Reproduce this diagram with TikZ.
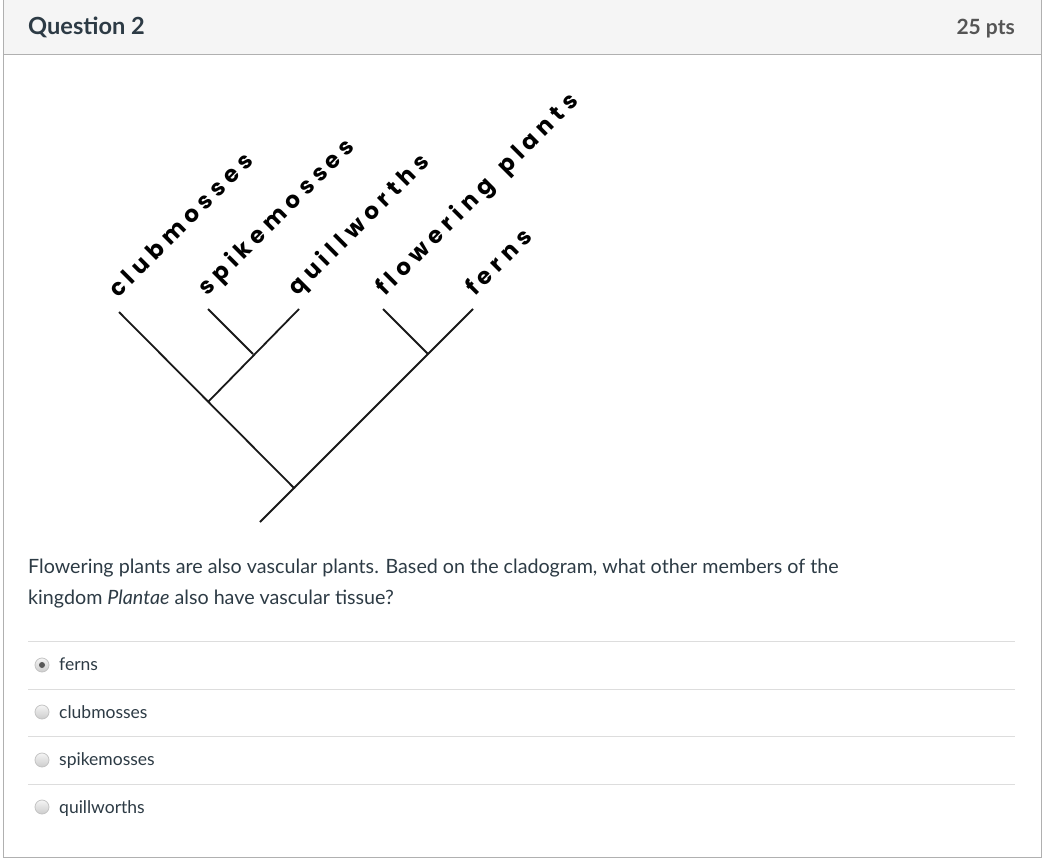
\documentclass[tikz,border=0pt]{standalone}
\usepackage{fontspec}
\setmainfont{Lato}
\newfontfamily\cladofont[LetterSpace=24]{Poppins}
\usetikzlibrary{positioning}
\definecolor{hdrgray}{HTML}{F5F5F5}
\definecolor{framegray}{HTML}{B0B0B0}
\definecolor{rulegray}{HTML}{DDDDDD}
\definecolor{inktext}{HTML}{2D3B45}
\definecolor{ptsgray}{HTML}{555555}
\definecolor{radiogray}{HTML}{C4C4C4}
\tikzset{
  q_title/.style = {anchor=base west, inner sep=0pt, text=inktext,
    font=\fontsize{23.6}{23.6}\selectfont\bfseries},% en-tete, titre
  q_pts/.style = {anchor=base east, inner sep=0pt, text=ptsgray,
    font=\fontsize{21}{21}\selectfont\bfseries},% en-tete, points
  q_txt/.style = {anchor=base west, inner sep=0pt, text=inktext,
    font=\fontsize{19.7}{19.7}\selectfont},% enonce
  opt_txt/.style = {anchor=base west, inner sep=0pt, text=inktext,
    font=\fontsize{17.5}{17.5}\selectfont},% reponse
  opt_rule/.style = {draw=rulegray, line width=1pt},% separateur
  radio_b/.style = {circle, draw=radiogray, line width=0.8pt, inner sep=0pt,
    minimum size=14pt, top color=black!4, bottom color=black!20},% bouton radio
  radio_dot/.style = {circle, fill=black!65, inner sep=0pt, minimum size=6pt},% choix
  cl_line/.style = {draw=black!90, line width=1.8pt},% branche
  cl_lbl/.style = {anchor=base west, inner sep=0pt, rotate=45,
    font=\cladofont\bfseries\fontsize{23}{23}\selectfont}% taxon
}

\begin{document}
\begin{tikzpicture}[x=1pt,y=-1pt]
\useasboundingbox (0,0) rectangle (1044,864);
% cadre + en-tete
\fill[white] (0,0) rectangle (1044,864);
\fill[hdrgray] (3,0) rectangle (1041,55);
\draw[framegray, line width=1pt] (3,-2) -- (3,857) -- (1041,857) -- (1041,-2);
\draw[framegray, line width=1pt] (3,55) -- (1041,55);
\node[q_title] (qtitle) at (28,35) {Question 2};
\node[q_pts] (qpts) at (1015,35) {25 pts};

% cladogramme
\coordinate (r0) at (260,522);
\coordinate (root) at (294,488);
\coordinate (na) at (208,402);
\coordinate (nb) at (253,354);
\coordinate (nc) at (428,354);
\coordinate (club) at (119,312);
\coordinate (spike) at (208,309);
\coordinate (quill) at (299,309);
\coordinate (flower) at (383,309);
\coordinate (fern) at (473,309);
\draw[cl_line] (r0) -- (root) -- (club);
\draw[cl_line] (root) -- (fern);
\draw[cl_line] (na) -- (quill);
\draw[cl_line] (nb) -- (spike);
\draw[cl_line] (nc) -- (flower);
\node[cl_lbl] (lbl_club) at ([shift={(-1,-13)}]club) {clubmosses};
\node[cl_lbl] (lbl_spike) at ([shift={(-1,-12)}]spike) {spikemosses};
\node[cl_lbl] (lbl_quill) at ([shift={(-2,-12)}]quill) {quillworths};
\node[cl_lbl] (lbl_flower) at ([shift={(2,-12)}]flower) {flowering\hspace{5pt} plants};
\node[cl_lbl] (lbl_fern) at ([shift={(2,-12)}]fern) {ferns};

% enonce
\node[q_txt] (qline1) at (28,573) {Flowering plants are also vascular plants. Based on the cladogram, what other members of the};
\node[q_txt] (qline2) at (28,604) {kingdom \textit{Plantae} also have vascular tissue?};

% reponses
\foreach \y in {641,689,736,784}
  \draw[opt_rule] (28,\y) -- (1015,\y);
\node[radio_b] (rb1) at (42,665) {};
\node[radio_dot] (rb1dot) at (rb1) {};
\node[radio_b] (rb2) at (42,712) {};
\node[radio_b] (rb3) at (42,760) {};
\node[radio_b] (rb4) at (42,807) {};
\node[opt_txt] (opt1) at (59,670) {ferns};
\node[opt_txt] (opt2) at (59,718) {clubmosses};
\node[opt_txt] (opt3) at (59,765) {spikemosses};
\node[opt_txt] (opt4) at (59,813) {quillworths};
\end{tikzpicture}
\end{document}
